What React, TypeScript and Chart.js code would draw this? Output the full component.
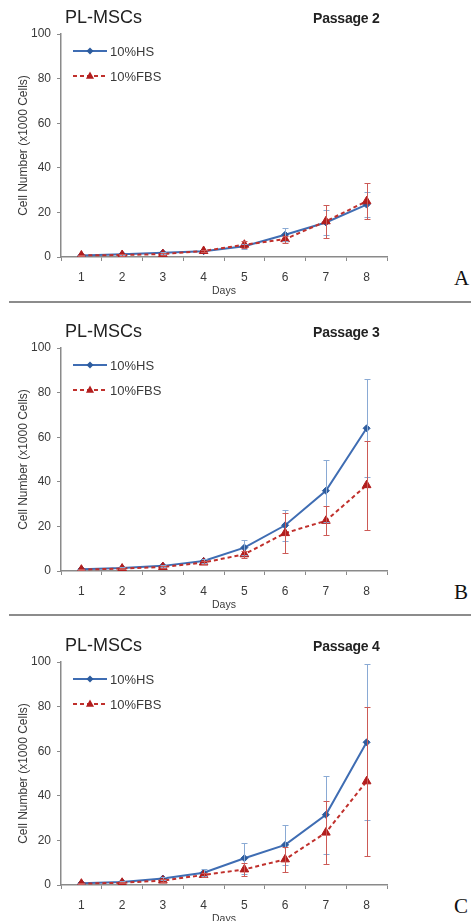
import React, { useEffect, useRef } from 'react';
import { Chart, registerables } from 'chart.js';

Chart.register(...registerables);

// ---------- data ----------
const DAYS = ['1', '2', '3', '4', '5', '6', '7', '8'];
const Y_TICKS = [0, 20, 40, 60, 80, 100];
const SERIES_NAMES = ['10%HS', '10%FBS'];
const PANEL_TITLE = 'PL-MSCs';
const PASSAGES = ['Passage 2', 'Passage 3', 'Passage 4'];
const PANEL_LETTERS = ['A', 'B', 'C'];
const X_TITLE = 'Days';
const Y_TITLE = 'Cell Number (x1000 Cells)';

// Passage 2
const HS_P2 = [0.7, 1.2, 1.9, 2.6, 4.8, 10, 15.5, 23.5];
const HS_P2_ERR = [0.3, 0.3, 0.4, 0.5, 1, 3, 5.5, 5.5];
const FBS_P2 = [0.7, 0.9, 1.3, 2.7, 5.5, 8, 16, 25];
const FBS_P2_ERR = [0.3, 0.3, 0.4, 0.6, 1.5, 1.5, 7.5, 8];

// Passage 3
const HS_P3 = [0.8, 1.3, 2.3, 4.5, 10.5, 20.5, 36, 64];
const HS_P3_ERR = [0.3, 0.3, 0.4, 0.7, 3.5, 7, 14, 22];
const FBS_P3 = [0.6, 1.1, 1.8, 3.8, 7.5, 17, 22.5, 38.5];
const FBS_P3_ERR = [0.3, 0.3, 0.4, 0.6, 1.5, 9, 6.5, 20];

// Passage 4
const HS_P4 = [0.8, 1.3, 2.9, 5.5, 12, 18, 31.5, 64];
const HS_P4_ERR = [0.3, 0.3, 0.5, 1.5, 7, 9, 17.5, 35];
const FBS_P4 = [0.6, 1.0, 2.0, 4.5, 7, 11.5, 23.5, 46.5];
const FBS_P4_ERR = [0.3, 0.3, 0.5, 0.8, 3, 5.5, 14, 33.5];

const PANELS = [
  { hs: HS_P2, hsErr: HS_P2_ERR, fbs: FBS_P2, fbsErr: FBS_P2_ERR },
  { hs: HS_P3, hsErr: HS_P3_ERR, fbs: FBS_P3, fbsErr: FBS_P3_ERR },
  { hs: HS_P4, hsErr: HS_P4_ERR, fbs: FBS_P4, fbsErr: FBS_P4_ERR },
];

// ---------- style ----------
const FONT = '"Liberation Sans", Arial, sans-serif';
const HS_COLOR = '#3f6db3';
const HS_MARK = '#2d5c9e';
const HS_ERR_COLOR = '#8aaad4';
const FBS_COLOR = '#c0302c';
const FBS_MARK = '#b21d1d';
const FBS_ERR_COLOR = '#cc5a56';
const AXIS_COLOR = '#8a8a8a';
const TEXT_COLOR = '#3a3a3a';

const CANVAS_W = 400;
const CANVAS_H = 300;

const errorBarPlugin = {
  id: 'errorBars',
  afterDatasetsDraw(chart: any) {
    const { ctx } = chart;
    const y = chart.scales.y;
    chart.data.datasets.forEach((ds: any, di: number) => {
      const meta = chart.getDatasetMeta(di);
      ctx.save();
      ctx.strokeStyle = ds.errorColor;
      ctx.lineWidth = 1;
      meta.data.forEach((pt: any, i: number) => {
        const v = ds.data[i];
        const e = ds.errors[i];
        const x = Math.round(pt.x) + 0.5;
        const yt = Math.round(y.getPixelForValue(v + e)) + 0.5;
        const yb = Math.round(y.getPixelForValue(Math.max(0, v - e))) + 0.5;
        ctx.beginPath();
        ctx.moveTo(x, yt);
        ctx.lineTo(x, yb);
        ctx.moveTo(x - 3, yt);
        ctx.lineTo(x + 3, yt);
        ctx.moveTo(x - 3, yb);
        ctx.lineTo(x + 3, yb);
        ctx.stroke();
      });
      ctx.restore();
    });
  },
};

function drawMarker(ctx: CanvasRenderingContext2D, style: string, x: number, y: number, r: number, color: string) {
  ctx.save();
  ctx.fillStyle = color;
  ctx.setLineDash([]);
  ctx.beginPath();
  if (style === 'triangle') {
    ctx.moveTo(x, y - r);
    ctx.lineTo(x + r * 0.9, y + r * 0.6);
    ctx.lineTo(x - r * 0.9, y + r * 0.6);
  } else {
    ctx.moveTo(x, y - r);
    ctx.lineTo(x + r, y);
    ctx.lineTo(x, y + r);
    ctx.lineTo(x - r, y);
  }
  ctx.closePath();
  ctx.fill();
  ctx.restore();
}

const innerLegendPlugin = {
  id: 'innerLegend',
  afterDraw(chart: any) {
    const { ctx, chartArea } = chart;
    const rows = [chartArea.top + 17, chartArea.top + 42];
    [0, 1].forEach((di, r) => {
      const ds = chart.data.datasets[di];
      const y = rows[r];
      const x0 = chartArea.left + 12;
      const x1 = chartArea.left + 46;
      ctx.save();
      ctx.strokeStyle = ds.borderColor;
      ctx.lineWidth = 2;
      ctx.setLineDash(ds.borderDash || []);
      ctx.beginPath();
      ctx.moveTo(x0, y);
      ctx.lineTo(x1, y);
      ctx.stroke();
      ctx.restore();
      drawMarker(ctx, ds.pointStyle, (x0 + x1) / 2, y, ds.pointStyle === 'triangle' ? 4.5 : 3.5, ds.pointBackgroundColor);
      ctx.save();
      ctx.fillStyle = TEXT_COLOR;
      ctx.font = `13px ${FONT}`;
      ctx.textBaseline = 'middle';
      ctx.textAlign = 'left';
      ctx.fillText(ds.label, x1 + 3, y + 1);
      ctx.restore();
    });
  },
};

function Panel({ index }: { index: number }) {
  const ref = useRef<HTMLCanvasElement | null>(null);
  const p = PANELS[index];

  useEffect(() => {
    if (!ref.current) return;
    const chart = new Chart(ref.current, {
      type: 'line',
      data: {
        labels: DAYS,
        datasets: [
          {
            label: SERIES_NAMES[0],
            data: p.hs,
            errors: p.hsErr,
            errorColor: HS_ERR_COLOR,
            borderColor: HS_COLOR,
            borderWidth: 2,
            pointStyle: 'rectRot',
            pointRadius: 3.5,
            pointBackgroundColor: HS_MARK,
            pointBorderColor: HS_MARK,
            pointBorderWidth: 1,
            tension: 0,
            order: 1,
          } as any,
          {
            label: SERIES_NAMES[1],
            data: p.fbs,
            errors: p.fbsErr,
            errorColor: FBS_ERR_COLOR,
            borderColor: FBS_COLOR,
            borderWidth: 2,
            borderDash: [4, 3],
            pointStyle: 'triangle',
            pointRadius: 5,
            pointBackgroundColor: FBS_MARK,
            pointBorderColor: FBS_MARK,
            pointBorderWidth: 1,
            tension: 0,
            order: 0,
          } as any,
        ],
      },
      options: {
        responsive: false,
        animation: false,
        devicePixelRatio: 1,
        layout: { padding: { top: 34, right: 13, left: 0, bottom: 0 } },
        plugins: {
          legend: { display: false },
          tooltip: { enabled: false },
          title: { display: false },
        },
        scales: {
          x: {
            type: 'category',
            offset: true,
            afterFit: (s: any) => {
              s.height = 43;
            },
            grid: {
              offset: true,
              drawOnChartArea: false,
              drawTicks: true,
              tickLength: 4,
              color: AXIS_COLOR,
              lineWidth: 1,
            },
            border: { display: true, color: AXIS_COLOR, width: 1.5 },
            ticks: {
              color: TEXT_COLOR,
              font: { family: FONT, size: 12 },
              padding: 9,
              maxRotation: 0,
              autoSkip: false,
            },
            title: {
              display: true,
              text: X_TITLE,
              color: TEXT_COLOR,
              font: { family: FONT, size: 10.5 },
              padding: { top: 0, bottom: 3 },
            },
          },
          y: {
            min: 0,
            max: 100,
            afterBuildTicks: (s: any) => {
              s.ticks = Y_TICKS.map((v) => ({ value: v }));
            },
            afterFit: (s: any) => {
              s.width = 61;
            },
            grid: {
              drawOnChartArea: false,
              drawTicks: true,
              tickLength: 4,
              color: AXIS_COLOR,
              lineWidth: 1,
            },
            border: { display: true, color: AXIS_COLOR, width: 1.5 },
            ticks: {
              color: TEXT_COLOR,
              font: { family: FONT, size: 12 },
              padding: 6,
            },
            title: {
              display: true,
              text: Y_TITLE,
              color: TEXT_COLOR,
              font: { family: FONT, size: 12 },
              padding: { top: 16, bottom: 0 },
            },
          },
        },
      } as any,
      plugins: [errorBarPlugin, innerLegendPlugin],
    });
    return () => chart.destroy();
  }, [index]);

  return (
    <div style={{ position: 'absolute', left: 0, top: index * 314, width: 471, height: 300 }}>
      <canvas
        ref={ref}
        width={CANVAS_W}
        height={CANVAS_H}
        style={{ position: 'absolute', left: 0, top: 0, width: CANVAS_W, height: CANVAS_H }}
      />
      <div
        style={{
          position: 'absolute',
          left: 65,
          top: 7,
          fontFamily: FONT,
          fontSize: 18,
          lineHeight: '20px',
          color: '#222',
          whiteSpace: 'nowrap',
        }}
      >
        {PANEL_TITLE}
      </div>
      <div
        style={{
          position: 'absolute',
          left: 313,
          top: 9,
          fontFamily: FONT,
          fontSize: 14,
          fontWeight: 'bold',
          lineHeight: '18px',
          letterSpacing: '-0.2px',
          color: '#222',
          whiteSpace: 'nowrap',
        }}
      >
        {PASSAGES[index]}
      </div>
      <div
        style={{
          position: 'absolute',
          left: 454,
          top: 266,
          fontFamily: '"Liberation Serif", "Times New Roman", serif',
          fontSize: 21,
          lineHeight: '24px',
          color: '#111',
        }}
      >
        {PANEL_LETTERS[index]}
      </div>
    </div>
  );
}

export default function App() {
  return (
    <div
      style={{
        position: 'fixed',
        left: 0,
        top: 0,
        width: 471,
        height: 921,
        overflow: 'hidden',
        background: '#fff',
      }}
    >
      <Panel index={0} />
      <Panel index={1} />
      <Panel index={2} />
      <div style={{ position: 'absolute', left: 9, top: 301, width: 462, height: 2, background: '#8c8c8c' }} />
      <div style={{ position: 'absolute', left: 9, top: 614, width: 462, height: 2, background: '#8c8c8c' }} />
    </div>
  );
}
